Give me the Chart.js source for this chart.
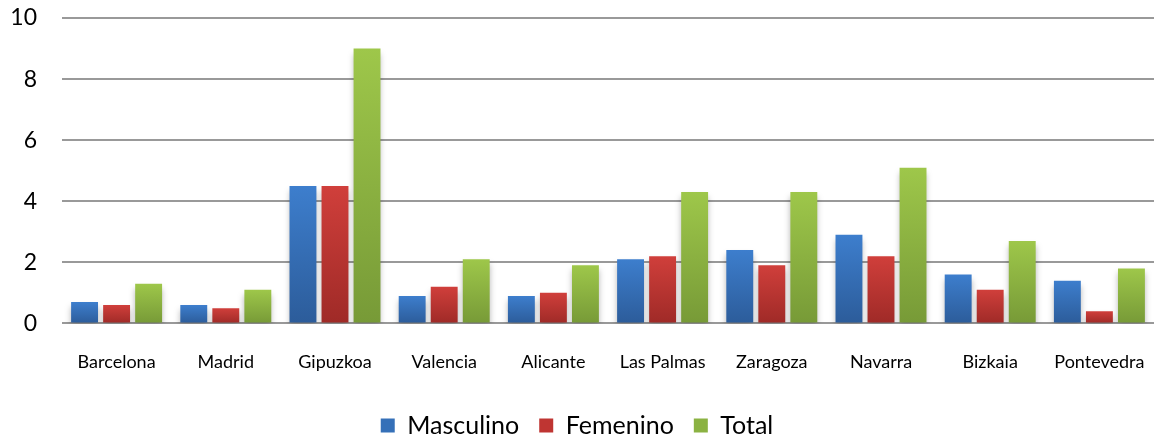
<!DOCTYPE html>
<html>
<head>
<meta charset="utf-8">
<script src="https://cdn.jsdelivr.net/npm/chart.js@4"></script>
<style>
  body { margin: 0; background: #fff; }
  #wrap { width: 1154px; height: 436px; }
</style>
</head>
<body>
<div id="wrap"><canvas id="chart"></canvas></div>
<script>
const provincias = ["Barcelona", "Madrid", "Gipuzkoa", "Valencia", "Alicante",
  "Las Palmas", "Zaragoza", "Navarra", "Bizkaia", "Pontevedra"];
const masculino = [0.7, 0.6, 4.5, 0.9, 0.9, 2.1, 2.4, 2.9, 1.6, 1.4];
const femenino  = [0.6, 0.5, 4.5, 1.2, 1.0, 2.2, 1.9, 2.2, 1.1, 0.4];
const total     = [1.3, 1.1, 9.0, 2.1, 1.9, 4.3, 4.3, 5.1, 2.7, 1.8];
const yTicks = [0, 2, 4, 6, 8, 10];

// vertical gradient per bar, light at the top, darker at the base
function barFill(top, bottom) {
  return (ctx) => {
    const chart = ctx.chart;
    const y = chart.scales.y;
    if (!y || ctx.raw === undefined) return top;
    const y0 = y.getPixelForValue(ctx.raw);
    const y1 = y.getPixelForValue(0);
    if (!isFinite(y0) || !isFinite(y1) || y0 === y1) return top;
    const g = chart.ctx.createLinearGradient(0, y0, 0, y1);
    g.addColorStop(0, top);
    g.addColorStop(1, bottom);
    return g;
  };
}

// soft shadow under the bars, like the office chart style
const barShadow = {
  id: 'barShadow',
  beforeDatasetDraw(chart) {
    const c = chart.ctx;
    c.save();
    c.shadowColor = 'rgba(0,0,0,0.28)';
    c.shadowBlur = 6;
    c.shadowOffsetY = 5;
  },
  afterDatasetDraw(chart) {
    chart.ctx.restore();
  }
};

new Chart(document.getElementById('chart'), {
  type: 'bar',
  data: {
    labels: provincias,
    datasets: [
      { label: 'Masculino', data: masculino, backgroundColor: barFill('#3d7ecd', '#2c5c9a') },
      { label: 'Femenino', data: femenino, backgroundColor: barFill('#d03f3b', '#9f2a27') },
      { label: 'Total', data: total, backgroundColor: barFill('#9ec74a', '#779a37') }
    ]
  },
  plugins: [barShadow],
  options: {
    responsive: true,
    maintainAspectRatio: false,
    animation: false,
    layout: { padding: { left: 0, right: 0, top: 18, bottom: -12 } },
    datasets: { bar: { categoryPercentage: 0.88, barPercentage: 0.84 } },
    plugins: {
      tooltip: { enabled: false },
      legend: {
        position: 'bottom',
        labels: {
          color: '#000',
          font: { family: 'Lato', size: 25 },
          boxWidth: 14,
          boxHeight: 14,
          padding: 20,
          generateLabels: (chart) => {
            const cols = ['#3570b8', '#bf3532', '#8bb242'];
            return chart.data.datasets.map((ds, i) => ({
              text: ds.label, fillStyle: cols[i], strokeStyle: cols[i],
              lineWidth: 0, datasetIndex: i, fontColor: '#000'
            }));
          }
        }
      }
    },
    scales: {
      x: {
        grid: { display: false },
        border: { display: false },
        ticks: { color: '#000', font: { family: 'Lato', size: 18 }, padding: 20 },
        afterFit: (s) => { s.paddingLeft = 0; s.paddingRight = 0; }
      },
      y: {
        min: 0,
        max: 10,
        afterBuildTicks: (axis) => { axis.ticks = yTicks.map(v => ({ value: v })); },
        grid: { color: '#999999', lineWidth: 2, drawTicks: false },
        border: { display: false },
        ticks: { color: '#000', font: { family: 'Lato', size: 23 }, padding: 25 },
        afterFit: (s) => { s.width = 62; s.paddingTop = 0; s.paddingBottom = 0; }
      }
    }
  }
});
</script>
</body>
</html>
